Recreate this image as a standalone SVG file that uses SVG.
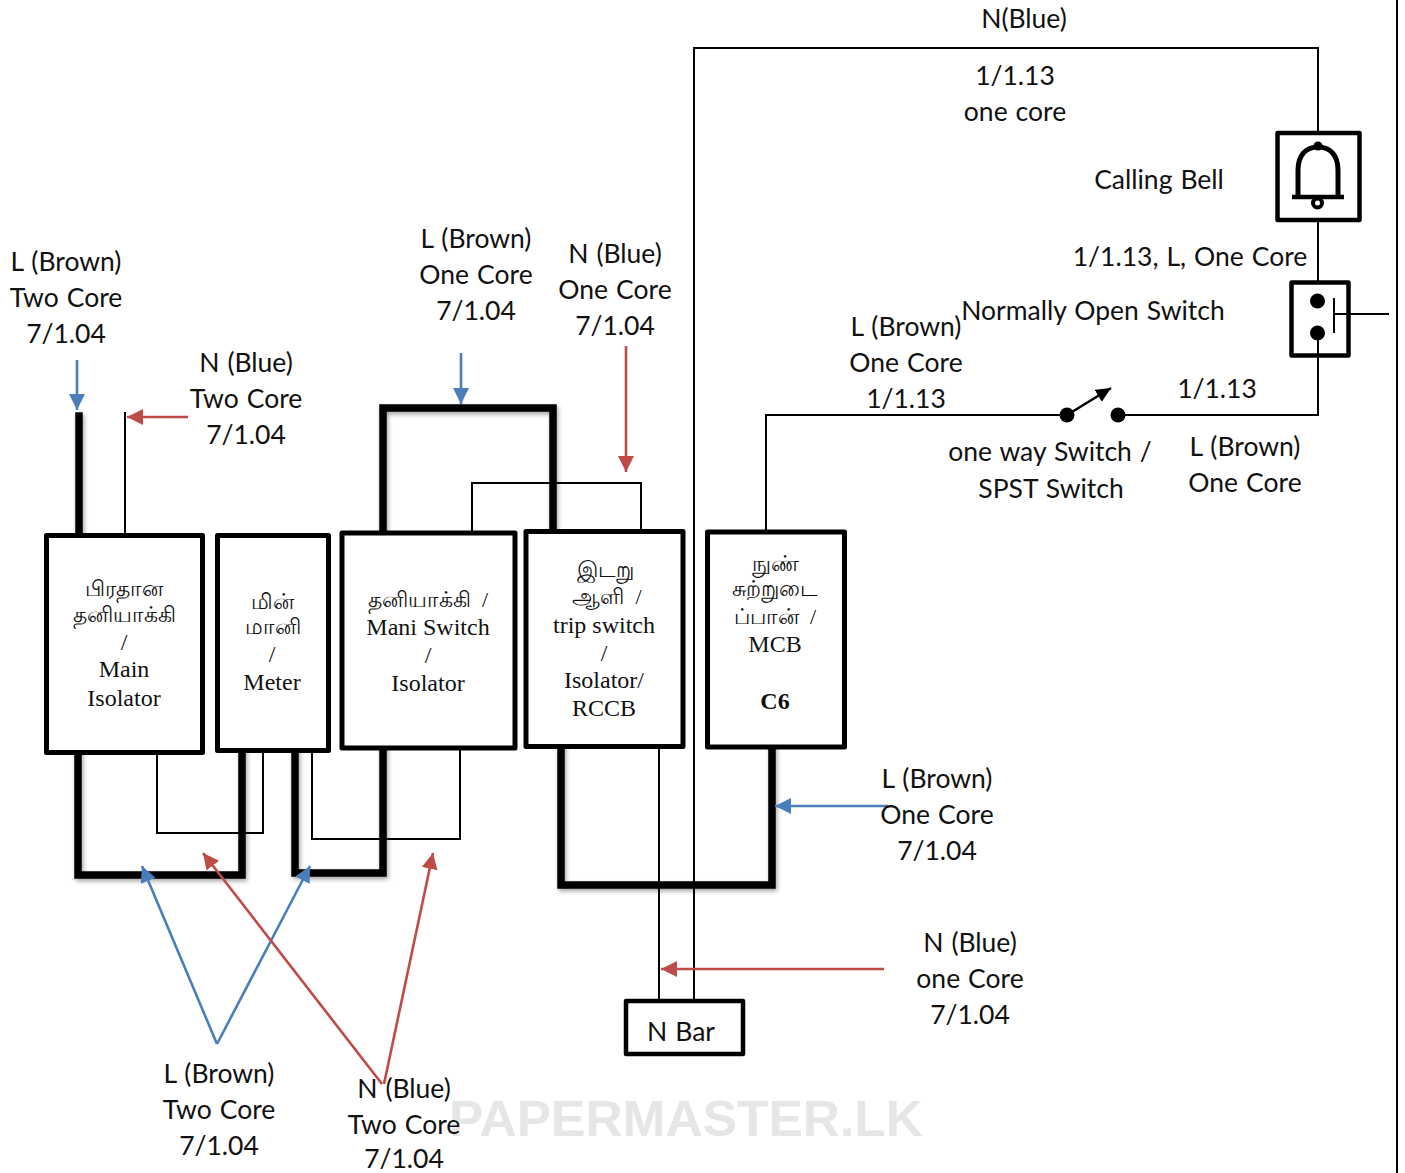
<svg xmlns="http://www.w3.org/2000/svg" width="1405" height="1173" viewBox="0 0 1405 1173">
<style>
.t{font-family:"Lato","Open Sans","Noto Sans",sans-serif;font-size:26.5px;word-spacing:1.2px;fill:#111;text-anchor:middle}
.s{font-family:"Liberation Serif","Noto Sans",serif;font-size:24px;fill:#111;text-anchor:middle}
.ta{font-size:22px}
.box{fill:#fff;stroke:#000;stroke-linejoin:round}
.w{fill:none;stroke:#000;stroke-width:2}
.th{fill:none;stroke:#000;stroke-width:7.500;stroke-linecap:square;stroke-linejoin:miter}
.b{fill:none;stroke:#4a7ebb;stroke-width:2.6}
.r{fill:none;stroke:#be4b48;stroke-width:2.6}
.wm{font-family:"Liberation Sans",sans-serif;font-size:50px;font-weight:700;fill:#e6e6e6}
</style>
<defs>
<marker id="ab" markerUnits="userSpaceOnUse" markerWidth="18" markerHeight="18" refX="16" refY="8" orient="auto"><path d="M0 0L16 8L0 16Z" fill="#4a7ebb"/></marker>
<marker id="ar" markerUnits="userSpaceOnUse" markerWidth="18" markerHeight="18" refX="16" refY="8" orient="auto"><path d="M0 0L16 8L0 16Z" fill="#be4b48"/></marker>
<marker id="ak" markerUnits="userSpaceOnUse" markerWidth="18" markerHeight="18" refX="15" refY="7" orient="auto"><path d="M0 0L15 7L0 14Z" fill="#000"/></marker>
<filter id="sh" x="-10%" y="-10%" width="120%" height="120%"><feDropShadow dx="1.5" dy="2.5" stdDeviation="2" flood-color="#000" flood-opacity=".35"/></filter>
</defs>
<line x1="1397" y1="0" x2="1397" y2="1173" stroke="#000" stroke-width="2"/>
<text class="wm" x="449" y="1136" textLength="474" lengthAdjust="spacingAndGlyphs">PAPERMASTER.LK</text>
<g id="connectors">
<path class="w" d="M694 1000V48H1318V135"/>
<path class="w" d="M1318 220V282"/>
<path class="w" d="M1318 333V415H1118"/>
<path class="w" d="M1067 415H766V532"/>
<path class="w" d="M1340 314H1389"/>
<path class="w" d="M125 412V536"/>
<path class="w" d="M472 532V483H641V532"/>
<path class="w" d="M157 750V833H263V750"/>
<path class="w" d="M312 750V839H460V748"/>
<path class="w" d="M659 746V1000"/>
<g filter="url(#sh)">
<path class="th" d="M79 416V534"/>
<path class="th" d="M383 530V408H553V530"/>
<path class="th" d="M78 752V875H242V750"/>
<path class="th" d="M295 750V873H383V748"/>
<path class="th" d="M561 746V885H772V746"/>
</g>
<path class="b" d="M77 360V410" marker-end="url(#ab)"/>
<path class="r" d="M188 417H127" marker-end="url(#ar)"/>
<path class="b" d="M461 353V404" marker-end="url(#ab)"/>
<path class="r" d="M626 346V472" marker-end="url(#ar)"/>
<path class="b" d="M888 806H775" marker-end="url(#ab)"/>
<path class="r" d="M884 969H661" marker-end="url(#ar)"/>
<path class="b" d="M217 1044L142 866" marker-end="url(#ab)"/>
<path class="b" d="M217 1044L310 866" marker-end="url(#ab)"/>
<path class="r" d="M382 1084L203 853" marker-end="url(#ar)"/>
<path class="r" d="M384 1084L433 853" marker-end="url(#ar)"/>
</g>
<g id="main-isolator"><rect class="box" x="46.500" y="535.500" width="156" height="217" stroke-width="5"/>
<text class="s ta" x="124" y="596">பிரதான</text><text class="s ta" x="124" y="622">தனியாக்கி</text><text class="s" x="124" y="650">/</text><text class="s" x="124" y="677">Main</text><text class="s" x="124" y="706">Isolator</text></g>
<g id="meter"><rect class="box" x="217.500" y="535.500" width="111" height="215" stroke-width="5"/>
<text class="s ta" x="272" y="609">மின்</text><text class="s ta" x="273" y="634">மானி</text><text class="s" x="272" y="662">/</text><text class="s" x="272" y="690">Meter</text></g>
<g id="mani-switch"><rect class="box" x="342" y="533" width="173" height="215" stroke-width="5"/>
<text class="s ta" x="428" y="607">தனியாக்கி&#160;&#160;/</text><text class="s" x="428" y="635">Mani Switch</text><text class="s" x="428" y="663">/</text><text class="s" x="428" y="691">Isolator</text></g>
<g id="trip-switch"><rect class="box" x="526" y="531.500" width="157" height="215" stroke-width="5"/>
<text class="s ta" x="605" y="577">இடறு</text><text class="s ta" x="607" y="604">ஆளி&#160;&#160;/</text><text class="s" x="604" y="633">trip switch</text><text class="s" x="604" y="661">/</text><text class="s" x="604" y="688">Isolator/</text><text class="s" x="604" y="716">RCCB</text></g>
<g id="mcb"><rect class="box" x="707.500" y="532" width="137" height="215" stroke-width="5"/>
<text class="s ta" x="775" y="571">நுண்</text><text class="s ta" x="775" y="596">சுற்றுடை</text><text class="s ta" x="775" y="624">ப்பான்&#160;&#160;/</text><text class="s" x="775" y="652">MCB</text><text class="s" x="775" y="709" font-weight="700">C6</text></g>
<g id="n-bar"><rect class="box" x="626" y="1001" width="117" height="53" stroke-width="4.500"/><text class="t" x="681" y="1041">N Bar</text></g>
<g id="calling-bell"><rect class="box" x="1277.500" y="133" width="82" height="87" stroke-width="4.500"/>
<g fill="none" stroke="#000" stroke-width="5"><path d="M1298 197V170C1298 155 1306 147 1318 147C1330 147 1338 155 1338 170V197"/><path d="M1292 197H1344" stroke-width="4.500"/><circle cx="1317.500" cy="203" r="4.500" stroke-width="4"/></g><circle cx="1318" cy="146" r="4.500" fill="#000"/></g>
<g id="no-switch"><rect class="box" x="1291.500" y="282.500" width="57" height="73" stroke-width="4.500"/>
<circle cx="1317.500" cy="301" r="7.500"/><circle cx="1317.500" cy="333" r="7.500"/>
<path class="w" d="M1334 298V333M1334 314H1350M1318 333V356"/></g>
<g id="one-way-switch"><circle cx="1067" cy="415" r="7.500"/><circle cx="1118" cy="415" r="7.500"/>
<path d="M1067 415L1111 388" stroke="#000" stroke-width="2.500" fill="none" marker-end="url(#ak)"/></g>
<g id="labels">
<text class="t" x="1024" y="28">N(Blue)</text><text class="t" x="1015" y="85">1/1.13</text><text class="t" x="1015" y="121">one core</text>
<text class="t" x="1159" y="189">Calling Bell</text><text class="t" x="1190" y="266">1/1.13, L, One Core</text><text class="t" x="1093" y="320">Normally Open Switch</text>
<text class="t" x="906" y="336">L (Brown)</text><text class="t" x="906" y="372">One Core</text><text class="t" x="906" y="408">1/1.13</text>
<text class="t" x="1217" y="398">1/1.13</text><text class="t" x="1050" y="461">one way Switch /</text><text class="t" x="1051" y="498">SPST Switch</text>
<text class="t" x="1245" y="456">L (Brown)</text><text class="t" x="1245" y="492">One Core</text>
<text class="t" x="66" y="271">L (Brown)</text><text class="t" x="66" y="307">Two Core</text><text class="t" x="66" y="343">7/1.04</text>
<text class="t" x="246" y="372">N (Blue)</text><text class="t" x="246" y="408">Two Core</text><text class="t" x="246" y="444">7/1.04</text>
<text class="t" x="476" y="248">L (Brown)</text><text class="t" x="476" y="284">One Core</text><text class="t" x="476" y="320">7/1.04</text>
<text class="t" x="615" y="263">N (Blue)</text><text class="t" x="615" y="299">One Core</text><text class="t" x="615" y="335">7/1.04</text>
<text class="t" x="937" y="788">L (Brown)</text><text class="t" x="937" y="824">One Core</text><text class="t" x="937" y="860">7/1.04</text>
<text class="t" x="970" y="952">N (Blue)</text><text class="t" x="970" y="988">one Core</text><text class="t" x="970" y="1024">7/1.04</text>
<text class="t" x="219" y="1083">L (Brown)</text><text class="t" x="219" y="1119">Two Core</text><text class="t" x="219" y="1155">7/1.04</text>
<text class="t" x="404" y="1098">N (Blue)</text><text class="t" x="404" y="1134">Two Core</text><text class="t" x="404" y="1168">7/1.04</text>
</g>
</svg>
